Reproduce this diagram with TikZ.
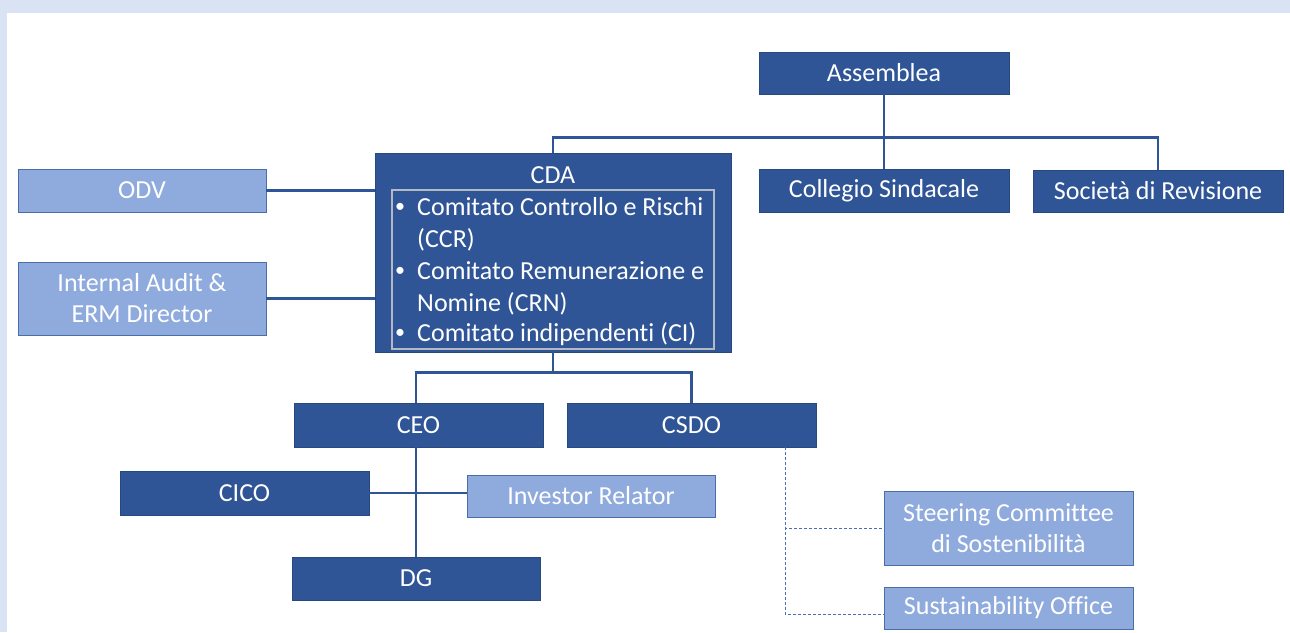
\documentclass[tikz,border=0pt]{standalone}
\usepackage{fontspec}
\setmainfont{Carlito}[Ligatures={NoCommon}]
\usetikzlibrary{calc}
\definecolor{dkblue}{HTML}{2F5597}
\definecolor{ltblue}{HTML}{8FAADC}
\definecolor{bordblue}{HTML}{4A6FA8}
\definecolor{bgblue}{HTML}{DAE3F3}
\definecolor{boxgray}{HTML}{B4B9C4}
\definecolor{dashblue}{HTML}{4A6FB0}
\tikzset{
  box/.style={rectangle, inner sep=0pt, text=white, align=center,
    font=\fontsize{26}{31}\selectfont},
  dark/.style={box, fill=dkblue, draw=dkblue!85!black, line width=0.5pt},
  light/.style={box, fill=ltblue, draw=bordblue, line width=0.9pt},
  conn/.style={draw=dkblue, line width=2.6pt},
  dashconn/.style={draw=dashblue, line width=0.8pt, dash pattern=on 3pt off 2pt},
  listtxt/.style={anchor=base west, inner sep=0pt, text=white,
    font=\fontsize{26}{31}\selectfont},
  bullettxt/.style={anchor=base west, inner sep=0pt, text=white,
    font=\fontsize{20}{24}\selectfont}
}
\begin{document}
\begin{tikzpicture}[x=1pt,y=-1pt]
\fill[bgblue] (0,0) rectangle (1290,632);
\fill[white] (7,13) rectangle (1290,632);
\useasboundingbox (0,0) rectangle (1290,632);

% top row
\node[dark, minimum width=250pt, minimum height=42pt] (assemblea) at (884,73) {Assemblea};
\node[dark, minimum width=250pt, minimum height=43pt] (collegio) at (884,190.5) {Collegio Sindacale};
\node[dark, minimum width=250pt, minimum height=42pt] (societa) at (1158,191) {Società di Revisione};

% CDA
\node[dark, minimum width=356pt, minimum height=199pt] (cda) at (553,252.5) {};
\node[box] (cdatitle) at (553,175) {CDA};
\node[rectangle, draw=boxgray, line width=1.3pt, minimum width=322pt, minimum height=159pt] (cdabox) at (553,269.5) {};
\node[bullettxt] (b1) at (395,212) {\textbullet};
\node[listtxt] (l1) at (417,215) {Comitato Controllo e Rischi};
\node[listtxt] (l2) at (417,247) {(CCR)};
\node[bullettxt] (b2) at (395,276) {\textbullet};
\node[listtxt] (l3) at (417,279) {Comitato Remunerazione e};
\node[listtxt] (l4) at (417,311) {Nomine (CRN)};
\node[bullettxt] (b3) at (395,338) {\textbullet};
\node[listtxt] (l5) at (417,341) {Comitato indipendenti (CI)};

% left
\node[light, minimum width=248pt, minimum height=43pt] (odv) at (142,190.5) {ODV};
\node[light, minimum width=248pt, minimum height=73pt] (ia) at (142,298.5) {Internal Audit \&\\ERM Director};

% middle
\node[dark, minimum width=249pt, minimum height=44pt] (ceo) at (418.5,425) {CEO};
\node[dark, minimum width=249pt, minimum height=44pt] (csdo) at (691.5,425) {CSDO};
\node[dark, minimum width=249pt, minimum height=44pt] (cico) at (244.5,493) {CICO};
\node[light, minimum width=248pt, minimum height=42pt] (investor) at (591,496) {Investor Relator};
\node[dark, minimum width=248pt, minimum height=43pt] (dg) at (416,578.5) {DG};

% right bottom
\node[light, minimum width=249pt, minimum height=74pt] (steering) at (1008.5,528) {Steering Committee\\di Sostenibilità};
\node[light, minimum width=249pt, minimum height=42pt] (sustain) at (1008.5,608) {Sustainability Office};

% connectors
\draw[conn] (assemblea.south) -- (collegio.north);
\draw[conn] (cda.north) -- ++(0,-15) -| (societa.north);
\draw[conn] (odv.east) -- (odv.east -| cda.west);
\draw[conn] (ia.east) -- (ia.east -| cda.west);
\draw[conn] (cda.south) -- ++(0,20) coordinate (bus2);
\draw[conn] (dg.north |- ceo.north) |- (bus2) -| (csdo.north);
\draw[conn] (dg.north |- ceo.south) -- (dg.north);
\draw[conn] (cico.east) -- (cico.east -| investor.west);
\coordinate (dstart) at ($(csdo.south)+(93.5,0)$);
\draw[dashconn] (dstart) |- (steering.west);
\draw[dashconn] (dstart) |- ($(sustain.west)+(0,6)$);
\end{tikzpicture}
\end{document}
